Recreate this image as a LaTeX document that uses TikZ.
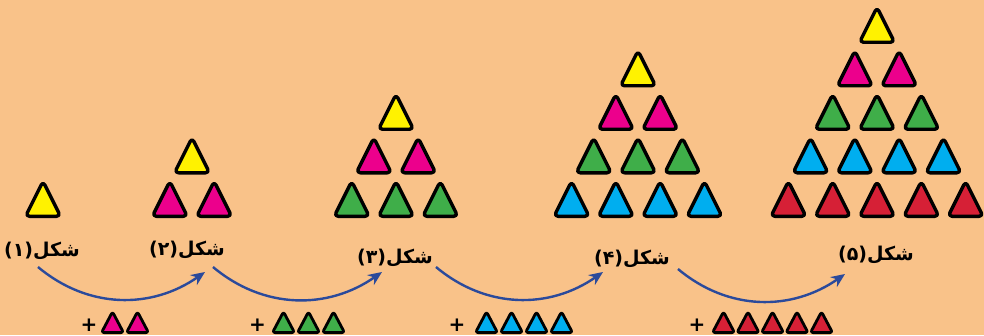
\documentclass[tikz,border=0pt]{standalone}
\usepackage{fontspec}
\newfontfamily\arabicfont[Script=Arabic]{DejaVu Sans Bold}
\newfontfamily\plusfont{DejaVu Sans Bold}
\TeXXeTstate=1
\usetikzlibrary{arrows.meta}
\definecolor{paper}{RGB}{249,194,137}
\definecolor{tyellow}{RGB}{255,242,0}
\definecolor{tmagenta}{RGB}{236,0,140}
\definecolor{tgreen}{RGB}{63,174,73}
\definecolor{tcyan}{RGB}{0,174,239}
\definecolor{tred}{RGB}{214,32,54}
\definecolor{flowblue}{RGB}{43,74,155}
\tikzset{
  tri/.style={draw=black, line width=3.4pt, rounded corners=4pt, line join=round},
  minitri/.style={draw=black, line width=2.8pt, rounded corners=2.5pt, line join=round},
  figlabel/.style={font=\fontsize{19}{21}\selectfont\arabicfont, inner sep=0pt},
  flow/.style={->, draw=flowblue, line width=2.4pt}
}
\begin{document}
\begin{tikzpicture}[x=1pt, y=1pt, >={Stealth[length=14pt, width=12pt]}]
\fill[paper] (0,0) rectangle (984,335);
\useasboundingbox (0,0) rectangle (984,335);
% the five figures
\foreach \fig/\cx in {1/43,2/192,3/396,4/638,5/877}
  \foreach \row/\col in {1/tyellow,2/tmagenta,3/tgreen,4/tcyan,5/tred}{
    \ifnum\row>\fig\relax\else
      \foreach \i in {1,...,\row}
        \draw[tri, fill=\col] ({\cx+(\i-(\row+1)/2)*44.3-17.5}, {118.7+(\fig-\row)*43.5}) -- ++(17.5,35) -- ++(17.5,-35) -- cycle;
    \fi
  }
% labels
\node[figlabel] (l1) at (42,84) {\beginR شکل\hbox{(۱)}\endR};
\node[figlabel] (l2) at (187,85) {\beginR شکل\hbox{(۲)}\endR};
\node[figlabel] (l3) at (395,77) {\beginR شکل\hbox{(۳)}\endR};
\node[figlabel] (l4) at (632,76) {\beginR شکل\hbox{(۴)}\endR};
\node[figlabel] (l5) at (876,80) {\beginR شکل\hbox{(۵)}\endR};
% arrows
\coordinate (s1) at (38,68);  \coordinate (e1) at (205,63);
\coordinate (s2) at (213,68); \coordinate (e2) at (382,63);
\coordinate (s3) at (436,68); \coordinate (e3) at (603,63);
\coordinate (s4) at (678,66); \coordinate (e4) at (845,61);
\draw[flow] (s1) to[out=-40, in=-145] (e1);
\draw[flow] (s2) to[out=-40, in=-145] (e2);
\draw[flow] (s3) to[out=-40, in=-145] (e3);
\draw[flow] (s4) to[out=-40, in=-145] (e4);
% what is added each step
\foreach \n/\col/\sx/\dx/\px in {2/tmagenta/112.5/25/89, 3/tgreen/283.5/25/257.5, 4/tcyan/486.5/25/457, 5/tred/723.5/24.5/697}{
  \node[font=\fontsize{20}{22}\selectfont\plusfont, inner sep=0pt] (plus\n) at (\px,10) {+};
  \foreach \i in {1,...,\n}
    \draw[minitri, fill=\col] ({\sx+(\i-1)*\dx-11}, 2.4) -- ++(11,20.8) -- ++(11,-20.8) -- cycle;
}
\end{tikzpicture}
\end{document}
